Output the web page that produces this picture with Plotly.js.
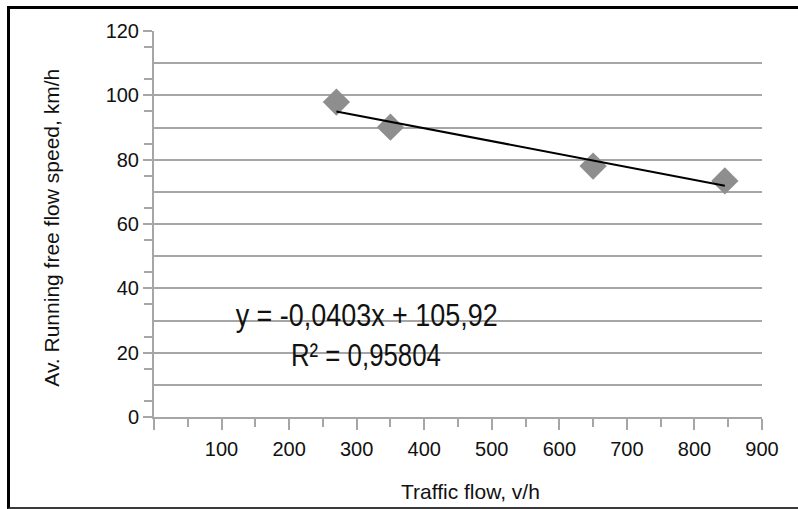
<!DOCTYPE html>
<html>
<head>
<meta charset="utf-8">
<script src="https://cdn.plot.ly/plotly-3.0.1.min.js"></script>
<style>
  html, body { margin: 0; padding: 0; background: #fff; }
  #wrap { position: relative; width: 798px; height: 509px; }
  #chart { width: 798px; height: 509px; }
  #frame { position: absolute; left: 7px; top: 6px; width: 800px; height: 503px;
           box-sizing: border-box; border-top: 3px solid #000; border-left: 3px solid #000;
           border-bottom: 2px solid #3a3a3a; pointer-events: none; }
</style>
</head>
<body>
<div id="wrap">
  <div id="chart"></div>
  <div id="frame"></div>
</div>
<script>
// Data
const flow = [270, 350, 650, 845];          // Traffic flow, v/h
const speed = [97.9, 90.1, 78.0, 73.4];     // Av. running free flow speed, km/h
const trendX = [270, 845];                  // linear trend line end points
const trendY = [95.0, 71.9];
const xTicks = [0, 100, 200, 300, 400, 500, 600, 700, 800, 900];
const xTickText = ['', '100', '200', '300', '400', '500', '600', '700', '800', '900'];
const xMinor = [50, 150, 250, 350, 450, 550, 650, 750, 850];
const yTicks = [0, 20, 40, 60, 80, 100, 120];
const yMinor = [5, 15, 25, 35, 45, 55, 65, 75, 85, 95, 105, 115];
const yHalfGrid = [10, 30, 50, 70, 90, 110];
const eqText = 'y = -0,0403x + 105,92';
const r2Text = 'R² = 0,95804';

const grey = '#a6a6a6';
const axFont = {family: 'Liberation Sans, Arial, sans-serif', size: 20, color: '#111'};
const eqFont = {family: 'Liberation Sans, Arial, sans-serif', size: 32, color: '#111'};
const eqWidths = [262, 150];   // condensed look of the original equation font

const traces = [
  {
    x: flow, y: speed, type: 'scatter', mode: 'markers',
    marker: {symbol: 'diamond', size: 21, color: '#8e8e8e', line: {width: 0}},
    hoverinfo: 'x+y', showlegend: false
  },
  {
    x: trendX, y: trendY, type: 'scatter', mode: 'lines', yaxis: 'y2',
    line: {color: '#000', width: 2}, hoverinfo: 'skip', showlegend: false
  }
];

const layout = {
  width: 798, height: 509,
  margin: {l: 153.5, r: 35.5, t: 30.7, b: 92.3, pad: 0},
  paper_bgcolor: '#fff', plot_bgcolor: '#fff',
  showlegend: false,
  xaxis: {
    range: [0, 900], tickmode: 'array', tickvals: xTicks, ticktext: xTickText,
    ticks: 'outside', ticklen: 11, tickwidth: 2, tickcolor: grey,
    minor: {tickmode: 'array', tickvals: xMinor, ticks: 'outside', ticklen: 8, tickwidth: 2, tickcolor: grey, showgrid: false},
    showline: true, linecolor: grey, linewidth: 2,
    showgrid: false, zeroline: false, tickfont: axFont, ticklabelstandoff: 2,
    fixedrange: true
  },
  yaxis: {
    range: [0, 120], tickmode: 'array', tickvals: yTicks,
    ticks: 'outside', ticklen: 9, tickwidth: 2, tickcolor: grey,
    minor: {tickmode: 'array', tickvals: yMinor, ticks: 'outside', ticklen: 8, tickwidth: 2, tickcolor: grey, showgrid: false},
    showline: true, linecolor: grey, linewidth: 2,
    showgrid: true, gridcolor: grey, gridwidth: 2, zeroline: false,
    tickfont: axFont, fixedrange: true
  },
  yaxis2: {
    overlaying: 'y', range: [0, 120], tickmode: 'array', tickvals: yHalfGrid,
    ticks: '', showticklabels: false, showline: false, zeroline: false,
    showgrid: true, gridcolor: grey, gridwidth: 2, fixedrange: true
  },
  annotations: [
    {text: 'Av. Running free flow speed, km/h', xref: 'paper', yref: 'paper',
     x: -0.168, y: 0.49, xanchor: 'center', yanchor: 'middle', textangle: -90,
     showarrow: false, font: {family: 'Liberation Sans, Arial, sans-serif', size: 21, color: '#111'}},
    {text: 'Traffic flow, v/h', xref: 'paper', yref: 'paper',
     x: 0.52, y: -0.193, xanchor: 'center', yanchor: 'middle',
     showarrow: false, font: {family: 'Liberation Sans, Arial, sans-serif', size: 21, color: '#111'}},
    {text: eqText, xref: 'x', yref: 'y', x: 314, y: 31.7, xanchor: 'center', yanchor: 'middle',
     showarrow: false, font: eqFont},
    {text: r2Text, xref: 'x', yref: 'y', x: 314, y: 19.3, xanchor: 'center', yanchor: 'middle',
     showarrow: false, font: eqFont}
  ]
};

const gd = document.getElementById('chart');
Plotly.newPlot(gd, traces, layout, {displayModeBar: false, staticPlot: true}).then(function () {
  [2, 3].forEach(function (idx, k) {
    const t = gd.querySelector('.annotation[data-index="' + idx + '"] text.annotation-text');
    if (!t) return;
    const b0 = t.getBBox();
    t.setAttribute('textLength', eqWidths[k]);
    t.setAttribute('lengthAdjust', 'spacingAndGlyphs');
    const b1 = t.getBBox();
    const dx = (b0.x + b0.width / 2) - (b1.x + b1.width / 2);
    const x0 = parseFloat(t.getAttribute('x') || '0');
    t.setAttribute('x', x0 + dx);
  });
});
</script>
</body>
</html>
